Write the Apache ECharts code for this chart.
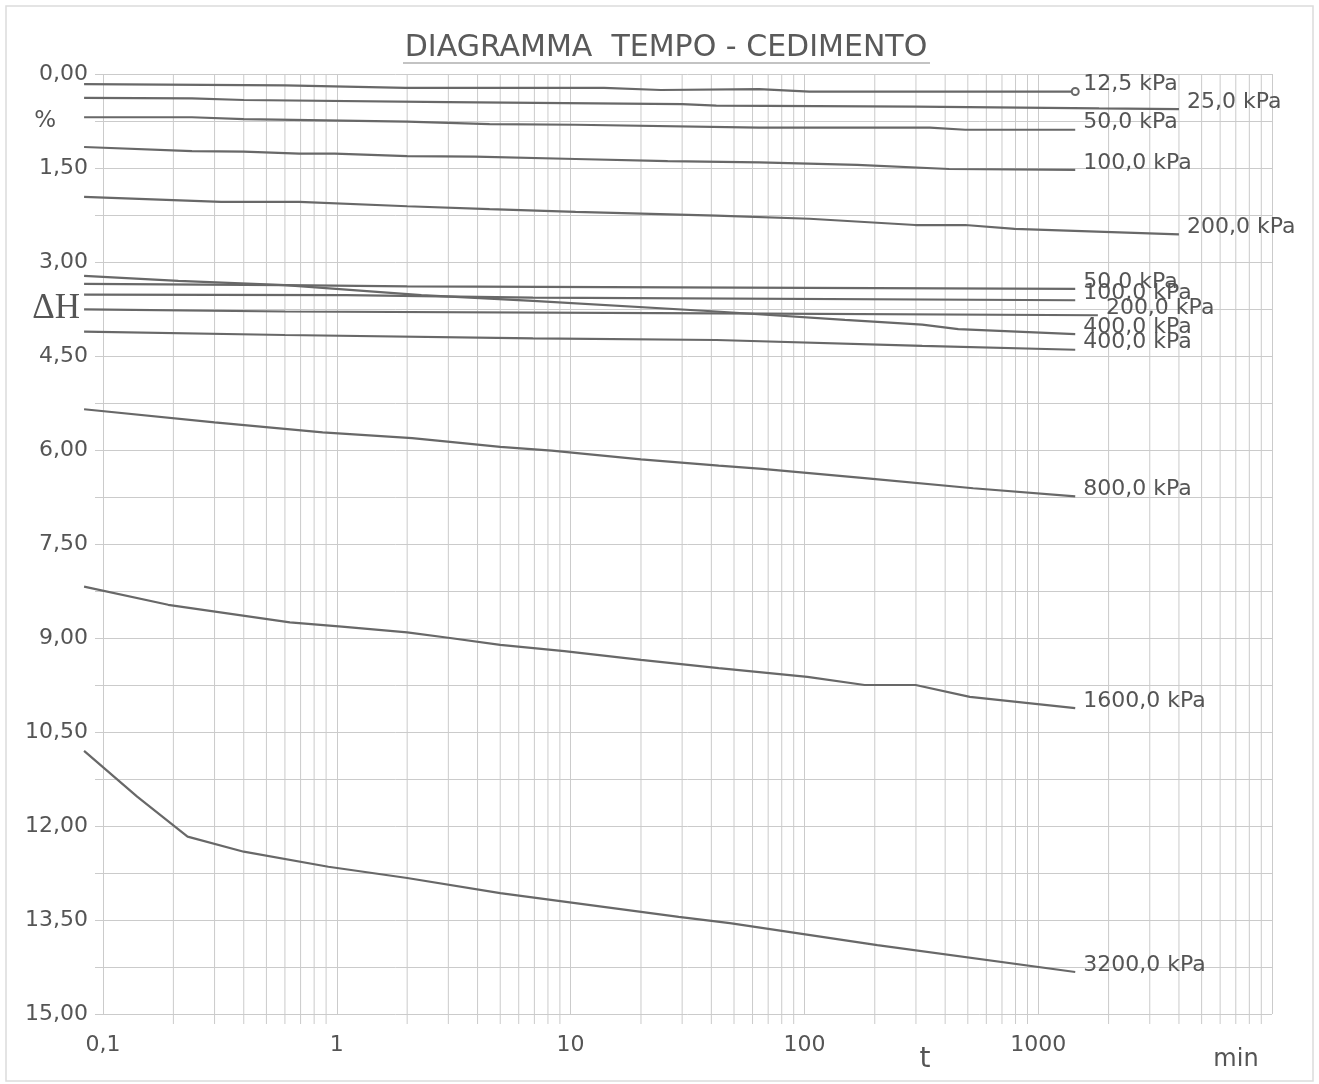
<!DOCTYPE html>
<html>
<head>
<meta charset="utf-8">
<script src="https://cdn.jsdelivr.net/npm/echarts@6/dist/echarts.min.js"></script>
<style>html,body{margin:0;padding:0;background:#fff;}#c{width:1319px;height:1084px;}</style>
</head>
<body>
<div id="c"></div>
<script>
// time [min], settlement ΔH [%]
const s125  = [[0.083,0.16],[0.6,0.18],[1.97,0.22],[13.9,0.22],[24.3,0.255],[64,0.24],[105,0.28],[1440,0.28]];
const s250  = [[0.083,0.38],[0.24,0.39],[0.4,0.415],[3,0.45],[30,0.48],[42,0.505],[300,0.52],[1820,0.55],[4000,0.56]];
const s500  = [[0.083,0.69],[0.24,0.69],[0.4,0.72],[2,0.76],[4.5,0.80],[10.5,0.81],[64,0.857],[344,0.857],[487,0.89],[1440,0.89]];
const s1000 = [[0.083,1.165],[0.24,1.23],[0.4,1.24],[0.69,1.27],[0.98,1.27],[2,1.31],[3.9,1.32],[10.5,1.356],[26,1.39],[64,1.41],[168,1.45],[416,1.516],[1440,1.53]];
const s2000 = [[0.083,1.96],[0.32,2.04],[0.69,2.04],[2,2.11],[4.5,2.155],[10.5,2.20],[42,2.26],[105,2.31],[298,2.41],[487,2.41],[793,2.47],[4000,2.56]];
const s4000a = [[0.083,3.22],[0.21,3.30],[0.6,3.37],[2.3,3.53],[6.9,3.62],[42,3.79],[149,3.925],[319,4.0],[455,4.07],[1440,4.15]];
const s500u  = [[0.083,3.35],[0.6,3.37],[2,3.39],[1440,3.43]];
const s1000u = [[0.083,3.52],[1.1,3.53],[6.9,3.57],[1440,3.61]];
const s2000u = [[0.083,3.755],[0.6,3.79],[42,3.82],[1800,3.85]];
const s4000b = [[0.083,4.11],[0.6,4.165],[6.9,4.22],[42,4.245],[319,4.34],[1440,4.40]];
const s8000  = [[0.083,5.35],[0.30,5.56],[0.87,5.72],[2.1,5.81],[3.05,5.87],[5.0,5.95],[8.3,6.01],[20,6.15],[43,6.25],[66,6.30],[181,6.45],[527,6.61],[1440,6.74]];
const s16000 = [[0.083,8.18],[0.19,8.47],[0.63,8.75],[1.05,8.82],[2,8.91],[3.05,9.0],[5,9.11],[9.4,9.21],[20,9.35],[43,9.48],[103,9.62],[181,9.75],[299,9.75],[510,9.94],[1440,10.12]];
const s32000 = [[0.083,10.80],[0.14,11.53],[0.23,12.17],[0.4,12.41],[0.92,12.65],[2,12.83],[5,13.07],[29,13.45],[48,13.55],[205,13.90],[1440,14.33]];

const seriesData  = [s125, s250, s500, s1000, s2000, s4000a, s500u, s1000u, s2000u, s4000b, s8000, s16000, s32000];
const seriesNames = ['12,5 kPa','25,0 kPa','50,0 kPa','100,0 kPa','200,0 kPa','400,0 kPa','50,0 kPa','100,0 kPa','200,0 kPa','400,0 kPa','800,0 kPa','1600,0 kPa','3200,0 kPa'];

// axis settings
const xMin = 0.1, xMax = 10000;      // printed log paper
const xDataMin = 0.08;               // readings start before 0,1 min
const yMin = 0, yMax = 15, yStep = 0.75;
const minorGrid = [];
for (let d = 0.1; d < 9999; d *= 10) for (let k = 2; k <= 9; k++) minorGrid.push([+(d * k).toPrecision(6), 0]);

// layout of the paper grid
const W = 1319, H = 1084;
const gLeft = 103, gRight = 47, gTop = 74, gBottom = 70;
const pxPerDecade = (W - gLeft - gRight) / (Math.log10(xMax) - Math.log10(xMin));
const dataLeft = W - gRight - pxPerDecade * (Math.log10(xMax) - Math.log10(xDataMin));

const GRID = '#cbcbcb';
const LINE = '#686868';
const TXT = '#555';
const FONT = 'DejaVu Sans';

const chart = echarts.init(document.getElementById('c'), null, {renderer: 'canvas'});

const series = seriesData.map((d, i) => {
  const data = d.map((p, j) => {
    if (i === 0 && j === d.length - 1) return {value: p, symbol: 'emptyCircle', symbolSize: 7};
    return {value: p};
  });
  return {
    type: 'line', name: seriesNames[i], data: data, xAxisIndex: 1, yAxisIndex: 1,
    symbol: 'none', showSymbol: i === 0, clip: false, z: 3,
    lineStyle: {color: LINE, width: 2.2},
    itemStyle: {color: LINE, borderColor: LINE, borderWidth: 1.5},
    endLabel: {show: true, formatter: () => seriesNames[i], distance: 8, offset: [0, -7],
               color: TXT, fontFamily: FONT, fontSize: 22},
    animation: false
  };
});

series.push({
  type: 'custom', data: minorGrid, silent: true, clip: false, z: 1, animation: false,
  xAxisIndex: 0, yAxisIndex: 0,
  encode: {x: 0, y: 1},
  renderItem: function (params, api) {
    const a = api.coord([api.value(0), yMin]);
    const b = api.coord([api.value(0), yMax]);
    return {type: 'line', shape: {x1: a[0], y1: a[1], x2: b[0], y2: b[1] + 10},
            style: {stroke: GRID, lineWidth: 1}};
  }
});

const option = {
  backgroundColor: '#fff',
  animation: false,
  grid: [
    {left: gLeft, right: gRight, top: gTop, bottom: gBottom, containLabel: false},
    {left: dataLeft, right: gRight, top: gTop, bottom: gBottom, containLabel: false}
  ],
  xAxis: [{
    type: 'log', logBase: 10, min: xMin, max: xMax, gridIndex: 0,
    axisLine: {show: false},
    axisTick: {show: true, length: 10, lineStyle: {color: GRID}},
    splitLine: {show: true, lineStyle: {color: GRID, width: 1}},
    axisLabel: {
      margin: 20, color: TXT, fontFamily: FONT, fontSize: 22,
      formatter: function (v) { const n = +(+v).toPrecision(6); return n >= xMax ? '' : String(n).replace('.', ','); }
    }
  }, {
    type: 'log', logBase: 10, min: xDataMin, max: xMax, gridIndex: 1, show: false
  }],
  yAxis: [{
    type: 'value', inverse: true, min: yMin, max: yMax, interval: yStep, gridIndex: 0,
    axisLine: {show: false},
    axisTick: {show: true, length: 8, lineStyle: {color: GRID}},
    splitLine: {show: true, lineStyle: {color: GRID, width: 1}},
    axisLabel: {
      margin: 15, color: TXT, fontFamily: FONT, fontSize: 22,
      formatter: function (v) {
        const k = Math.round(v / yStep);
        if (k % 2 === 0) return v.toFixed(2).replace('.', ',');
        if (k === 1) return '{pct|%}';
        if (k === 5) return '{dh|ΔH}';
        return '';
      },
      rich: {
        pct: {fontFamily: FONT, fontSize: 23, color: TXT, padding: [0, 32, 0, 0]},
        dh: {fontFamily: 'Liberation Serif', fontSize: 35, color: TXT, padding: [0, 8, 0, 0]}
      }
    }
  }, {
    type: 'value', inverse: true, min: yMin, max: yMax, gridIndex: 1, show: false
  }],
  graphic: [
    {type: 'rect', silent: true, z: -1, shape: {x: 6, y: 6, width: 1307, height: 1075},
     style: {fill: 'none', stroke: '#dcdcdc', lineWidth: 1.5}},
    {type: 'text', x: 666, y: 48, silent: true,
     style: {text: 'DIAGRAMMA  TEMPO - CEDIMENTO', fill: '#5a5a5a', font: '30px "DejaVu Sans"',
             align: 'center', verticalAlign: 'middle'}},
    {type: 'line', silent: true, shape: {x1: 403, y1: 63, x2: 930, y2: 63},
     style: {stroke: '#888', lineWidth: 1.2}},
    {type: 'text', x: 925, y: 1060, silent: true,
     style: {text: 't', fill: TXT, font: '28px "DejaVu Sans"', align: 'center', verticalAlign: 'middle'}},
    {type: 'text', x: 1236, y: 1060, silent: true,
     style: {text: 'min', fill: TXT, font: '24px "DejaVu Sans"', align: 'center', verticalAlign: 'middle'}}
  ],
  series: series
};
chart.setOption(option);
</script>
</body>
</html>
